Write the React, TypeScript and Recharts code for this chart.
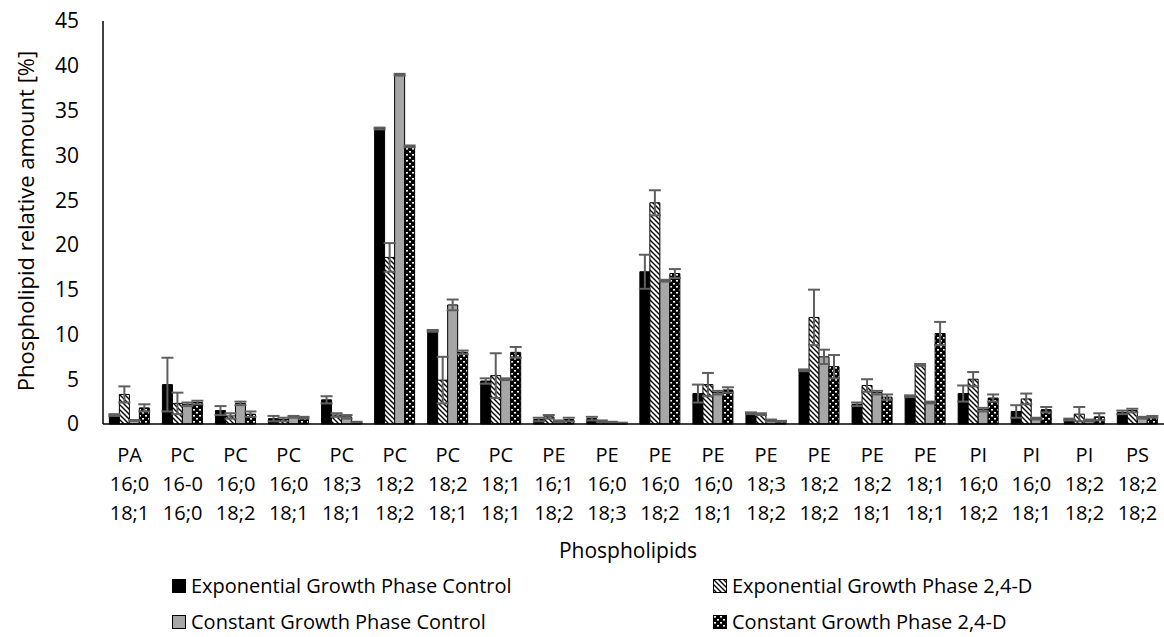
import { BarChart, Bar, XAxis, YAxis, ErrorBar, Legend, Label } from 'recharts'

// categories: class + two fatty-acid chains
const lipidClass = ['PA', 'PC', 'PC', 'PC', 'PC', 'PC', 'PC', 'PC', 'PE', 'PE', 'PE', 'PE', 'PE', 'PE', 'PE', 'PE', 'PI', 'PI', 'PI', 'PS']
const chainA = ['16;0', '16-0', '16;0', '16;0', '18;3', '18;2', '18;2', '18;1', '16;1', '16;0', '16;0', '16;0', '18;3', '18;2', '18;2', '18;1', '16;0', '16;0', '18;2', '18;2']
const chainB = ['18;1', '16;0', '18;2', '18;1', '18;1', '18;2', '18;1', '18;1', '18;2', '18;3', '18;2', '18;1', '18;2', '18;2', '18;1', '18;1', '18;2', '18;1', '18;2', '18;2']

const expControl = [1.0, 4.4, 1.5, 0.6, 2.7, 33.0, 10.4, 4.8, 0.5, 0.6, 17.0, 3.4, 1.2, 6.0, 2.2, 3.1, 3.4, 1.4, 0.5, 1.3]
const expControlErr = [0.1, 3.0, 0.5, 0.3, 0.4, 0.1, 0.1, 0.3, 0.2, 0.2, 1.9, 1.0, 0.1, 0.1, 0.2, 0.1, 0.9, 0.7, 0.1, 0.2]
const expTreat = [3.3, 2.3, 0.9, 0.5, 1.0, 18.6, 4.9, 5.4, 0.8, 0.3, 24.7, 4.4, 1.1, 11.9, 4.3, 6.6, 5.0, 2.8, 1.1, 1.5]
const expTreatErr = [0.9, 1.2, 0.3, 0.2, 0.2, 1.6, 2.6, 2.5, 0.2, 0.1, 1.4, 1.3, 0.1, 3.1, 0.7, 0.1, 0.8, 0.6, 0.8, 0.2]
const constControl = [0.4, 2.2, 2.3, 0.8, 0.8, 39.0, 13.3, 5.0, 0.3, 0.2, 16.0, 3.5, 0.4, 7.5, 3.5, 2.4, 1.6, 0.6, 0.4, 0.7]
const constControlErr = [0.05, 0.2, 0.2, 0.1, 0.2, 0.1, 0.6, 0.1, 0.1, 0.05, 0.1, 0.2, 0.1, 0.8, 0.2, 0.1, 0.2, 0.1, 0.1, 0.1]
const constTreat = [1.8, 2.4, 1.1, 0.7, 0.2, 31.0, 8.0, 8.0, 0.5, 0.1, 16.8, 3.8, 0.3, 6.4, 3.0, 10.1, 2.9, 1.6, 0.8, 0.8]
const constTreatErr = [0.4, 0.2, 0.3, 0.1, 0.05, 0.1, 0.2, 0.6, 0.2, 0.05, 0.5, 0.3, 0.05, 1.3, 0.3, 1.3, 0.4, 0.3, 0.4, 0.1]

const yTicks = [0, 5, 10, 15, 20, 25, 30, 35, 40, 45]

const data = lipidClass.map((c, i) => ({
  name: `${c}\n${chainA[i]}\n${chainB[i]}`,
  expControl: expControl[i],
  expControlErr: expControlErr[i],
  expTreat: expTreat[i],
  expTreatErr: expTreatErr[i],
  constControl: constControl[i],
  constControlErr: constControlErr[i],
  constTreat: constTreat[i],
  constTreatErr: constTreatErr[i],
}))

const series = [
  { key: 'expControl', label: 'Exponential Growth Phase Control', fill: '#000000' },
  { key: 'expTreat', label: 'Exponential Growth Phase 2,4-D', fill: 'url(#hatch)' },
  { key: 'constControl', label: 'Constant Growth Phase Control', fill: '#a6a6a6' },
  { key: 'constTreat', label: 'Constant Growth Phase 2,4-D', fill: 'url(#dots)' },
]

const FONT = '"Open Sans", sans-serif'

function CategoryTick({ x, y, payload }: any) {
  const lines = String(payload.value).split('\n')
  return (
    <text x={x} y={y} textAnchor="middle" fontFamily={FONT} fontSize={20} fill="#000">
      {lines.map((l, i) => (
        <tspan key={i} x={x} dy={i === 0 ? 30 : 29}>{l}</tspan>
      ))}
    </text>
  )
}

function LegendBox() {
  const pos = [
    { left: 172, top: 0 },
    { left: 713, top: 0 },
    { left: 172, top: 36 },
    { left: 713, top: 36 },
  ]
  return (
    <div style={{ position: 'relative', width: 1164, height: 70 }}>
      {series.map((s, i) => (
        <div key={s.key} style={{ position: 'absolute', left: pos[i].left, top: pos[i].top, display: 'flex', alignItems: 'center', fontFamily: FONT, fontSize: 20, color: '#000', whiteSpace: 'nowrap' }}>
          <svg width={14} height={14} style={{ marginRight: 5 }}>
            <rect x={0.5} y={0.5} width={13} height={13} fill={s.fill} stroke="#000" strokeWidth={1} />
          </svg>
          {s.label}
        </div>
      ))}
    </div>
  )
}

export default function App() {
  return (
    <div style={{ position: 'absolute', left: 0, top: 0, width: 1164, height: 637, background: '#fff' }}>
      <svg width={0} height={0} style={{ position: 'absolute' }}>
        <defs>
          <pattern id="hatch" patternUnits="userSpaceOnUse" width={5} height={5}>
            <rect width={5} height={5} fill="#fff" />
            <path d="M0,0 L5,5 M-1,4 L1,6 M4,-1 L6,1" stroke="#000" strokeWidth={1.4} />
          </pattern>
          <pattern id="dots" patternUnits="userSpaceOnUse" width={6} height={6}>
            <rect width={6} height={6} fill="#000" />
            <rect x={1} y={1} width={2} height={1.6} fill="#fff" />
            <rect x={4} y={4} width={2} height={1.6} fill="#fff" />
          </pattern>
        </defs>
      </svg>
      <BarChart
        width={1164}
        height={637}
        data={data}
        margin={{ top: 21, right: 0, bottom: 43, left: 0 }}
        barCategoryGap="12%"
        barGap={0}
      >
        <XAxis
          dataKey="name"
          interval={0}
          height={100}
          axisLine={{ stroke: '#000', strokeWidth: 1.5 }}
          tickLine={false}
          tick={<CategoryTick />}
        >
          <Label
            content={() => (
              <text x={628} y={558} textAnchor="middle" fontFamily={FONT} fontSize={21} fill="#000">
                Phospholipids
              </text>
            )}
          />
        </XAxis>
        <YAxis
          width={103}
          domain={[0, 45]}
          ticks={yTicks}
          interval={0}
          axisLine={{ stroke: '#000', strokeWidth: 1.5 }}
          tickLine={false}
          tickSize={0}
          tickMargin={24}
          tick={{ fill: '#000', fontFamily: FONT, fontSize: 21 }}
        >
          <Label
            content={() => (
              <text
                x={28}
                y={221}
                transform="rotate(-90 28 221)"
                textAnchor="middle"
                dominantBaseline="middle"
                fontFamily={FONT}
                fontSize={22}
                fill="#000"
              >
                Phospholipid relative amount [%]
              </text>
            )}
          />
        </YAxis>
        <Legend
          verticalAlign="bottom"
          wrapperStyle={{ position: 'absolute', left: 0, top: 572, width: 1164 }}
          content={() => <LegendBox />}
        />
        {series.map((s) => (
          <Bar key={s.key} dataKey={s.key} name={s.label} fill={s.fill} stroke="#000" strokeWidth={1} isAnimationActive={false}>
            <ErrorBar dataKey={`${s.key}Err`} width={6} stroke="#5f5f5f" strokeWidth={2} direction="y" isAnimationActive={false} />
          </Bar>
        ))}
      </BarChart>
    </div>
  )
}
